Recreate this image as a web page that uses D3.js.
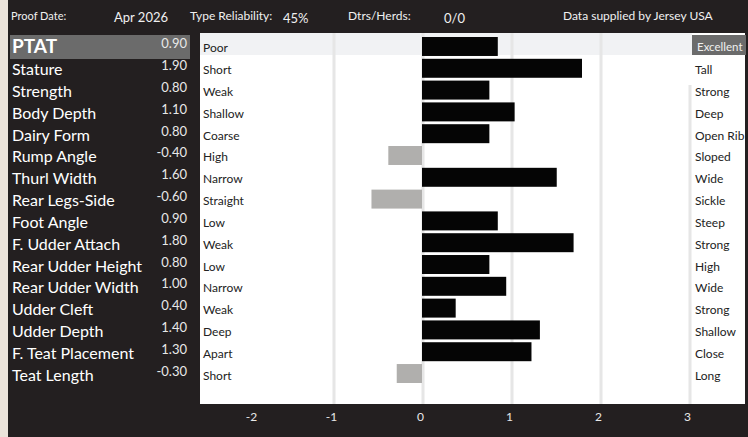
<!DOCTYPE html>
<html>
<head>
<meta charset="utf-8">
<script src="https://cdn.jsdelivr.net/npm/d3@7"></script>
<style>
  body { margin: 0; background: #ebe3da; }
  svg { display: block; font-family: Lato, "Open Sans", sans-serif; }
</style>
</head>
<body>
<div id="chart"></div>
<script>
// trait data
let traits = ['PTAT', 'Stature', 'Strength', 'Body Depth', 'Dairy Form', 'Rump Angle', 'Thurl Width',
   'Rear Legs-Side', 'Foot Angle', 'F. Udder Attach', 'Rear Udder Height', 'Rear Udder Width',
   'Udder Cleft', 'Udder Depth', 'F. Teat Placement', 'Teat Length'];
let values = [0.90, 1.90, 0.80, 1.10, 0.80, -0.40, 1.60, -0.60, 0.90, 1.80, 0.80, 1.00, 0.40, 1.40, 1.30, -0.30];
let lowLabels = ['Poor', 'Short', 'Weak', 'Shallow', 'Coarse', 'High', 'Narrow', 'Straight', 'Low', 'Weak',
   'Low', 'Narrow', 'Weak', 'Deep', 'Apart', 'Short'];
let highLabels = ['Excellent', 'Tall', 'Strong', 'Deep', 'Open Rib', 'Sloped', 'Wide', 'Sickle', 'Steep',
   'Strong', 'High', 'Wide', 'Strong', 'Shallow', 'Close', 'Long'];
let ticks = [-2, -1, 0, 1, 2, 3];
let header = [
   {text: 'Proof Date:', x: 11, size: 11, dy: 0},
   {text: 'Apr 2026', x: 114, size: 13, dy: 2},
   {text: 'Type Reliability:', x: 190, size: 12, dy: 0},
   {text: '45%', x: 283, size: 13, dy: 3},
   {text: 'Dtrs/Herds:', x: 348, size: 12, dy: 0},
   {text: '0/0', x: 444, size: 13, dy: 3},
   {text: 'Data supplied by Jersey USA', x: 563, size: 12, dy: 0}
];

let width = 748, height = 437;
let dark = '#231f20';

let svg = d3.select('#chart').append('svg')
   .attr('width', width)
   .attr('height', height);

// background
svg.append('rect').attr('x', 0).attr('y', 0).attr('width', width).attr('height', height).attr('fill', '#ebe3da');
svg.append('rect').attr('x', 8).attr('y', 0).attr('width', width - 8).attr('height', height).attr('fill', dark);
// white chart area
svg.append('rect').attr('x', 200).attr('y', 33).attr('width', 545).attr('height', 371).attr('fill', '#fff');

let y = d3.scaleBand().domain(traits).range([37, 383]).paddingInner(0.13).paddingOuter(0);
let xGrid = d3.scaleLinear().domain([-1, 3]).range([334, 690]);
let xBar = d3.scaleLinear().domain([0, 1.9]).range([422, 582]);

// PTAT highlight rows
svg.append('rect').attr('x', 200).attr('y', 33).attr('width', 492).attr('height', 22).attr('fill', '#f1f2f4');
svg.append('rect').attr('x', 10).attr('y', 35).attr('width', 180).attr('height', 24).attr('fill', '#6b6b6b');
svg.append('rect').attr('x', 692).attr('y', 35).attr('width', 54).attr('height', 20).attr('fill', '#6b6b6b');

// gridlines
svg.selectAll('line.grid')
   .data(ticks.filter(t => t >= -1))
   .enter().append('line')
   .attr('class', 'grid')
   .attr('x1', d => xGrid(d)).attr('x2', d => xGrid(d))
   .attr('y1', d => d === 3 ? 85 : 33)
   .attr('y2', 404)
   .attr('stroke', '#e6e6e6')
   .attr('stroke-width', 3);

// bars
svg.selectAll('rect.bar')
   .data(values)
   .enter().append('rect')
   .attr('class', 'bar')
   .attr('x', d => xBar(Math.min(0, d)))
   .attr('y', (d, i) => y(traits[i]))
   .attr('width', d => Math.abs(xBar(d) - xBar(0)))
   .attr('height', y.bandwidth())
   .attr('fill', d => d < 0 ? '#b0afad' : '#050505');

let mid = t => y(t) + y.bandwidth() / 2;

// left trait names
svg.selectAll('text.trait')
   .data(traits)
   .enter().append('text')
   .attr('x', 12)
   .attr('y', (d, i) => mid(d) + 7)
   .attr('fill', '#fff')
   .attr('font-size', (d, i) => i === 0 ? 19 : 16)
   .attr('font-weight', (d, i) => i === 0 ? 'bold' : 'normal')
   .text(d => d);

// values
svg.selectAll('text.value')
   .data(values)
   .enter().append('text')
   .attr('x', 187)
   .attr('y', (d, i) => mid(traits[i]) + 2)
   .attr('text-anchor', 'end')
   .attr('fill', '#e8e8e8')
   .attr('font-size', 13)
   .text(d => d.toFixed(2));

// low / high labels
svg.selectAll('text.low')
   .data(lowLabels)
   .enter().append('text')
   .attr('x', 203)
   .attr('y', (d, i) => mid(traits[i]) + 6)
   .attr('fill', '#222')
   .attr('font-size', 12)
   .text(d => d);

svg.selectAll('text.high')
   .data(highLabels)
   .enter().append('text')
   .attr('x', (d, i) => i === 0 ? 697 : 695)
   .attr('y', (d, i) => mid(traits[i]) + (i === 0 ? 5 : 6))
   .attr('fill', (d, i) => i === 0 ? '#f0f0f0' : '#222')
   .attr('font-size', (d, i) => i === 0 ? 11.5 : 12)
   .text(d => d);

// header
svg.selectAll('text.header')
   .data(header)
   .enter().append('text')
   .attr('x', d => d.x)
   .attr('y', d => 20 + d.dy)
   .attr('fill', '#f0f0f0')
   .attr('font-size', d => d.size)
   .text(d => d.text);

// bottom axis labels
let axis = svg.append('g')
   .attr('transform', 'translate(-3,404)')
   .call(d3.axisBottom(xGrid).tickValues(ticks).tickSize(0).tickPadding(8).tickFormat(d => String(d)));
axis.select('.domain').remove();
axis.selectAll('text')
   .attr('dx', d => d === -2 ? 9 : 0)
   .attr('fill', '#e8e8e8')
   .attr('font-size', 12)
   .attr('font-family', 'Lato, sans-serif');
</script>
</body>
</html>
